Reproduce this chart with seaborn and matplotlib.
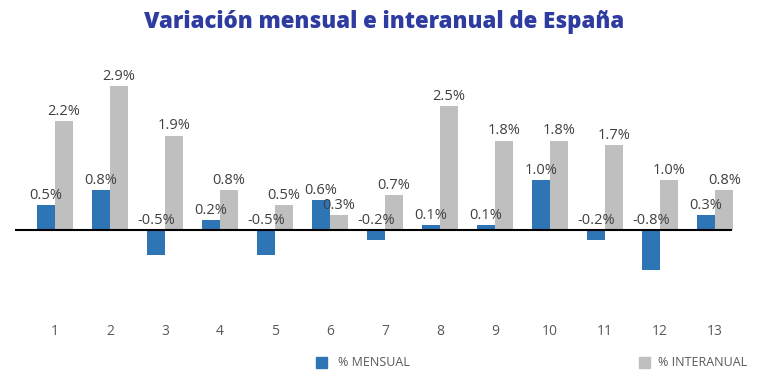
import pandas as pd
import matplotlib
matplotlib.use("Agg")
import matplotlib.pyplot as plt
import seaborn as sns

# Datos
meses = [str(i) for i in range(1, 14)]
mensual = [0.5, 0.8, -0.5, 0.2, -0.5, 0.6, -0.2, 0.1, 0.1, 1.0, -0.2, -0.8, 0.3]
interanual = [2.2, 2.9, 1.9, 0.8, 0.5, 0.3, 0.7, 2.5, 1.8, 1.8, 1.7, 1.0, 0.8]
series = ["% MENSUAL", "% INTERANUAL"]

df = pd.DataFrame({
    "mes": meses * 2,
    "valor": mensual + interanual,
    "serie": [series[0]] * len(meses) + [series[1]] * len(meses),
})

sns.set_style("white")
plt.rcParams["font.family"] = ["Open Sans", "DejaVu Sans"]

fig = plt.figure(figsize=(7.68, 3.9), dpi=100)
# ejes colocados a mano para cuadrar con la referencia
ax = fig.add_axes([0.0, 1 - 305 / 390, 1.0, (305 - 60) / 390])

sns.barplot(data=df, x="mes", y="valor", hue="serie", order=meses,
            palette=["#2E75B6", "#BFBFBF"], width=0.66, ax=ax,
            saturation=1, legend=False, linewidth=0)

ax.set_xlim(-1, 12.96)
ax.set_ylim(-1.51, 3.42)
ax.hlines(0, -0.73, 12.31, color="black", linewidth=1.5, zorder=3)

# etiquetas encima de cada barra (las negativas sobre el eje)
for bar in ax.patches:
    h = bar.get_height()
    if pd.isna(h):
        continue
    ax.annotate(f"{h:.1f}%", (bar.get_x() + bar.get_width() / 2, max(h, 0)),
                xytext=(0, 1.5), textcoords="offset points",
                ha="center", va="bottom", fontsize=10.5, color="#404040")

for s in ax.spines.values():
    s.set_visible(False)
ax.set_yticks([])
ax.set_xlabel("")
ax.set_ylabel("")
ax.tick_params(axis="x", length=0, pad=14, labelsize=10, labelcolor="#595959")

fig.suptitle("Variación mensual e interanual de España", y=0.975,
             fontsize=16, fontweight="heavy", color="#2E3BA0")

# leyenda a mano
fig.patches.extend([
    plt.Rectangle((316 / 768, 1 - 368 / 390), 11 / 768, 11 / 390,
                  color="#2E75B6", transform=fig.transFigure, figure=fig),
    plt.Rectangle((639 / 768, 1 - 368 / 390), 11 / 768, 11 / 390,
                  color="#BFBFBF", transform=fig.transFigure, figure=fig),
])
fig.text(338 / 768, 1 - 362 / 390, series[0], fontsize=9, color="#595959", va="center")
fig.text(658 / 768, 1 - 362 / 390, series[1], fontsize=9, color="#595959", va="center")

fig.savefig("out.png", dpi=100)
